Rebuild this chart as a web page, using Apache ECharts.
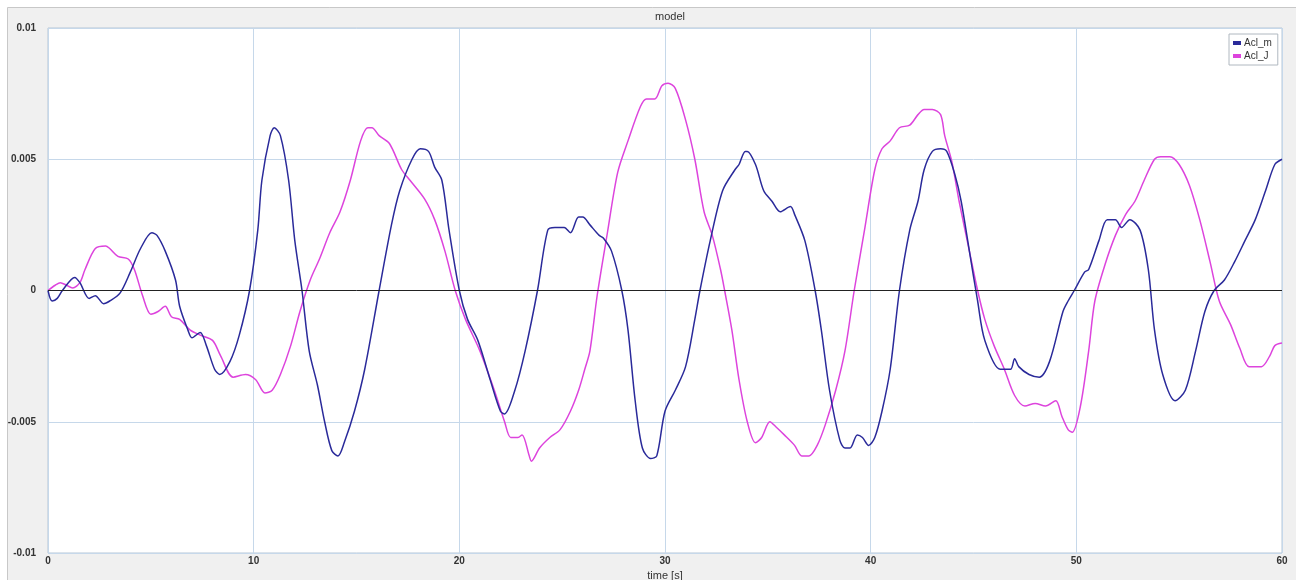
<!DOCTYPE html>
<html>
<head>
<meta charset="utf-8">
<script src="https://cdn.jsdelivr.net/npm/echarts@6/dist/echarts.min.js"></script>
<style>html,body{margin:0;padding:0;background:#fff}#c{width:1296px;height:580px}</style>
</head>
<body>
<div id="c"></div>
<script>
var xTicks = [0, 10, 20, 30, 40, 50, 60];
var yTicks = [-0.01, -0.005, 0, 0.005, 0.01];

var timeM = [0,0.2,0.45,0.7,1.3,1.55,2.0,2.3,2.7,3.0,3.5,4.0,4.5,5.05,5.3,5.7,6.2,6.4,6.8,7.0,7.4,7.7,8.1,8.35,8.85,9.3,9.8,10.2,10.4,10.8,11.0,11.3,11.7,12.0,12.35,12.7,13.1,13.45,13.8,14.1,14.4,14.9,15.4,16.1,16.7,17.1,17.7,18.1,18.5,18.8,19.15,19.5,20.0,20.4,20.9,21.5,22.0,22.2,22.7,23.2,23.8,24.3,24.65,25.1,25.4,25.8,26.0,26.35,26.8,27.0,27.4,27.9,28.2,28.55,28.9,29.3,29.6,30.0,30.5,31.0,31.45,31.7,32.2,32.8,33.4,33.6,33.9,34.0,34.4,34.8,35.2,35.6,36.1,36.3,36.8,37.3,37.6,38.0,38.5,38.75,39.0,39.35,39.6,39.9,40.2,40.55,40.95,41.4,41.9,42.3,42.6,43.0,43.4,43.7,44.1,44.4,44.8,45.2,45.55,46.3,46.8,47.0,47.2,47.7,48.2,48.7,49.35,49.6,49.9,50.4,50.6,51.1,51.5,51.9,52.2,52.6,53.1,53.5,53.8,54.2,54.8,55.3,55.8,56.25,56.7,57.2,57.7,58.2,58.7,59.2,59.65,60];
var aclM = [0,-0.0004,-0.0003,0,0.0005,0.0003,-0.0003,-0.0002,-0.0005,-0.0004,-0.0001,0.0007,0.0016,0.0022,0.0021,0.0015,0.0004,-0.0006,-0.0015,-0.0018,-0.0016,-0.0021,-0.003,-0.0032,-0.0027,-0.0017,0,0.0023,0.0042,0.0059,0.0062,0.0059,0.0042,0.0019,0,-0.0023,-0.0036,-0.005,-0.0061,-0.0063,-0.0058,-0.0046,-0.003,0,0.0025,0.0038,0.005,0.0054,0.0053,0.0047,0.0042,0.0023,0,-0.0011,-0.0019,-0.0034,-0.0046,-0.0047,-0.0038,-0.0023,0,0.0023,0.0024,0.0024,0.0022,0.0028,0.0028,0.0025,0.0021,0.002,0.0015,0,-0.0015,-0.0042,-0.006,-0.0064,-0.0063,-0.0046,-0.0038,-0.0029,-0.0011,0,0.0019,0.0038,0.0046,0.0048,0.0053,0.0053,0.0048,0.0038,0.0034,0.003,0.0032,0.0029,0.0019,0,-0.0015,-0.0038,-0.0057,-0.006,-0.006,-0.0055,-0.0056,-0.0059,-0.0056,-0.0046,-0.003,0,0.0023,0.0034,0.0046,0.0053,0.0054,0.0053,0.0044,0.0034,0.0015,-0.0004,-0.0019,-0.003,-0.003,-0.0026,-0.0029,-0.0032,-0.0033,-0.0027,-0.0008,-0.0004,0,0.0007,0.0008,0.0019,0.0027,0.0027,0.0024,0.0027,0.0023,0.0008,-0.0015,-0.0032,-0.0042,-0.0038,-0.0023,-0.0008,0,0.0004,0.0011,0.0019,0.0027,0.0038,0.0048,0.005];

var timeJ = [0,0.35,0.6,0.9,1.2,1.55,1.8,2.3,2.8,3.0,3.4,3.9,4.2,4.6,5.0,5.35,5.7,6.0,6.4,6.9,7.4,8.0,8.4,9.0,9.6,10.1,10.55,10.9,11.3,11.8,12.25,12.75,13.2,13.7,14.2,14.7,15.2,15.55,15.75,16.1,16.6,17.2,17.6,18.3,18.8,19.3,19.8,20.3,21.0,21.7,22.2,22.5,22.85,23.05,23.4,23.5,23.9,24.4,24.9,25.4,25.8,26.1,26.35,26.7,27.2,27.7,28.2,28.8,29.1,29.5,29.85,30.15,30.5,31.0,31.45,31.9,32.3,32.7,32.9,33.25,33.6,34.0,34.4,34.7,35.1,35.4,35.8,36.3,36.65,37.0,37.4,37.8,38.3,38.75,39.2,39.7,40.2,40.55,40.95,41.4,41.9,42.3,42.6,43.0,43.4,43.6,43.95,44.3,44.8,45.2,45.55,46.0,46.5,47.0,47.5,48.0,48.5,49.0,49.3,49.6,49.8,50.2,50.6,50.9,51.4,51.9,52.4,52.85,53.3,53.8,54.1,54.55,55.0,55.5,56.0,56.5,56.95,57.5,57.95,58.4,59.0,59.4,59.65,60];
var aclJ = [0,0.0002,0.0003,0.0002,0.0001,0.0003,0.0008,0.0016,0.0017,0.0016,0.0013,0.0012,0.0008,-0.0002,-0.0009,-0.0008,-0.0006,-0.001,-0.0011,-0.0015,-0.0017,-0.0019,-0.0025,-0.0033,-0.0032,-0.0034,-0.0039,-0.0038,-0.0032,-0.0021,-0.0008,0.0004,0.0012,0.0022,0.003,0.0042,0.0057,0.0062,0.0062,0.0059,0.0056,0.0046,0.0042,0.0035,0.0027,0.0015,0,-0.0011,-0.0023,-0.0038,-0.005,-0.0056,-0.0056,-0.0055,-0.0063,-0.0065,-0.006,-0.0056,-0.0053,-0.0046,-0.0038,-0.003,-0.0023,-0.0002,0.0022,0.0045,0.0057,0.007,0.0073,0.0073,0.0078,0.0079,0.0077,0.0065,0.005,0.003,0.0021,0.0008,0,-0.0015,-0.0034,-0.005,-0.0058,-0.0056,-0.005,-0.0052,-0.0055,-0.0059,-0.0063,-0.0063,-0.0059,-0.0051,-0.0038,-0.0023,0,0.0023,0.0046,0.0054,0.0057,0.0062,0.0063,0.0067,0.0069,0.0069,0.0067,0.0059,0.0049,0.0034,0.0015,0,-0.0011,-0.0021,-0.003,-0.004,-0.0044,-0.0043,-0.0044,-0.0042,-0.0048,-0.0053,-0.0054,-0.0044,-0.0023,-0.0004,0.001,0.0021,0.0029,0.0034,0.0042,0.005,0.0051,0.0051,0.0048,0.004,0.0027,0.0011,-0.0004,-0.0013,-0.0022,-0.0029,-0.0029,-0.0025,-0.0021,-0.002];

function zip(a, b) { return a.map(function (v, i) { return [v, b[i]]; }); }

var chart = echarts.init(document.getElementById('c'), null, { renderer: 'canvas' });
chart.setOption({
  backgroundColor: '#ffffff',
  animation: false,
  textStyle: { fontFamily: 'Liberation Sans, Arial, sans-serif' },
  graphic: [{
    type: 'rect', z: -10, silent: true,
    shape: { x: 7.5, y: 7.5, width: 1300, height: 600 },
    style: { fill: '#f0f0f0', stroke: '#c8c8c8', lineWidth: 1 }
  }],
  title: {
    text: 'model', left: 665, top: 6, textAlign: 'center',
    textStyle: { fontSize: 11, fontWeight: 'normal', color: '#333' }
  },
  legend: {
    orient: 'vertical', left: 1229, top: 34,
    backgroundColor: '#ffffff', borderColor: '#b0b8c0', borderWidth: 1,
    padding: [4, 6, 4, 4], itemGap: 3,
    itemWidth: 8, itemHeight: 4, icon: 'rect',
    textStyle: { fontSize: 10, color: '#333', padding: [0, 0, 0, -2] },
    data: ['Acl_m', 'Acl_J']
  },
  grid: {
    left: 48, right: 14, top: 28, bottom: 27,
    outerBoundsMode: 'none', containLabel: false,
    show: true, backgroundColor: '#ffffff', borderColor: '#b6c6d6', borderWidth: 1
  },
  xAxis: {
    type: 'value', min: 0, max: 60, interval: 10,
    name: 'time [s]', nameLocation: 'middle', nameGap: 16,
    nameTextStyle: { fontSize: 11, color: '#333', verticalAlign: 'middle' },
    axisLine: { show: false }, axisTick: { show: false },
    axisLabel: { fontSize: 10, color: '#333', fontWeight: 'bold', margin: 3,
      formatter: function (v) { return xTicks.indexOf(v) >= 0 ? String(v) : ''; } },
    splitLine: { show: true, lineStyle: { color: '#c6d8ea', width: 1 } }
  },
  yAxis: {
    type: 'value', min: -0.01, max: 0.01, interval: 0.005,
    axisLine: { show: false }, axisTick: { show: false },
    axisLabel: { fontSize: 10, color: '#333', fontWeight: 'bold', margin: 12,
      formatter: function (v) {
        for (var i = 0; i < yTicks.length; i++) if (Math.abs(v - yTicks[i]) < 1e-9) return String(yTicks[i]);
        return '';
      } },
    splitLine: { show: true, lineStyle: { color: '#c6d8ea', width: 1 } }
  },
  series: [
    {
      name: 'Acl_m', type: 'line', data: zip(timeM, aclM),
      showSymbol: false, smooth: 0.3, color: '#2a2a9a',
      lineStyle: { width: 1.5, color: '#2a2a9a' },
      markLine: {
        silent: true, symbol: 'none', label: { show: false },
        lineStyle: { color: '#222', width: 1, type: 'solid' },
        data: [{ yAxis: 0 }]
      },
      z: 3
    },
    {
      name: 'Acl_J', type: 'line', data: zip(timeJ, aclJ),
      showSymbol: false, smooth: 0.3, color: '#dd44dd',
      lineStyle: { width: 1.5, color: '#dd44dd' },
      z: 2
    }
  ]
});
</script>
</body>
</html>
